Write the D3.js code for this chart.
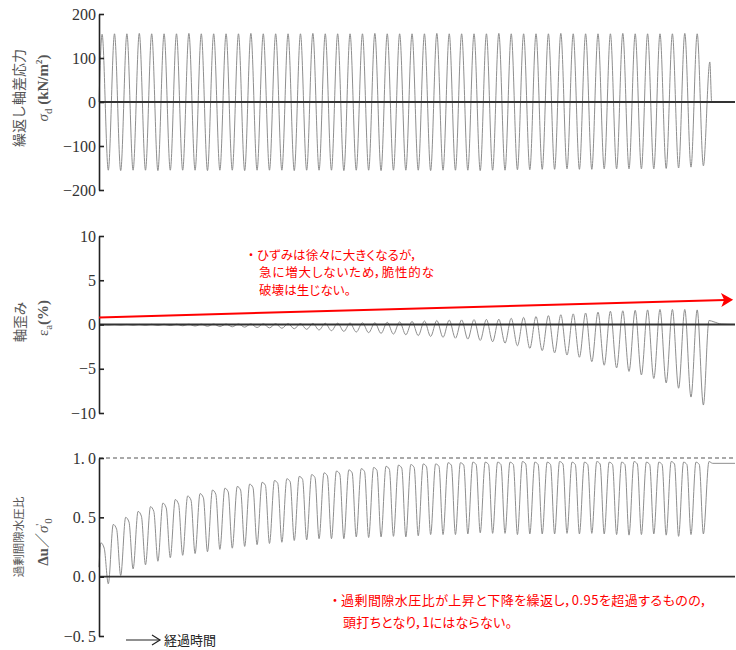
<!DOCTYPE html>
<html><head><meta charset="utf-8">
<script src="https://cdn.jsdelivr.net/npm/d3@7"></script>
<style>body{margin:0;background:#fff}svg{display:block}</style>
</head><body>
<svg id="c" width="736" height="650"></svg>
<script>
// ---------------- data ----------------
// time axis in loading cycles; peaks at k+0.25, troughs at k+0.75
const stressPeaks = [
 154,155,155,156,155,155,155,156,155,155,
 155,155,156,155,155,155,155,156,155,155,
 155,155,156,155,155,155,155,156,155,155,
 155,155,156,155,155,155,155,156,155,155,
 155,155,156,155,155,155,155,156,155];
const stressTroughs = [
 -155,-156,-155,-155,-156,-155,-155,-155,-156,-155,
 -155,-156,-155,-155,-155,-156,-155,-155,-155,-156,
 -155,-155,-156,-155,-155,-155,-156,-155,-155,-155,
 -156,-155,-155,-154,-154,-153,-153,-152,-153,-153,
 -152,-152,-152,-152,-152,-151,-150,-148,-145];
const stressHead = [[0, 0]];
const stressTail = [[49.27, 91], [49.42, 0], [51.3, 0]];

const strainPeaks = [
 0.0,0.0,0.01,0.01,0.02,0.02,0.03,0.03,0.04,0.05,
 0.05,0.06,0.07,0.08,0.09,0.10,0.11,0.12,0.14,0.15,
 0.17,0.19,0.20,0.25,0.30,0.35,0.40,0.45,0.50,0.52,
 0.55,0.58,0.60,0.70,0.80,0.90,1.00,1.10,1.20,1.30,
 1.40,1.50,1.55,1.60,1.65,1.70,1.70,1.70,1.65];
const strainTroughs = [
 -0.05,-0.06,-0.07,-0.08,-0.10,-0.12,-0.14,-0.17,-0.20,-0.23,
 -0.26,-0.30,-0.34,-0.38,-0.43,-0.48,-0.55,-0.62,-0.70,-0.78,
 -0.85,-0.92,-1.00,-1.08,-1.16,-1.25,-1.35,-1.45,-1.55,-1.65,
 -1.80,-1.95,-2.10,-2.40,-2.70,-2.95,-3.20,-3.45,-3.70,-4.20,
 -4.60,-4.90,-5.30,-5.70,-6.10,-6.60,-7.20,-8.20,-9.10];
const strainHead = [[0, 0]];
const strainTail = [[49.2, 0.45], [49.6, 0.3], [50.2, 0.05], [51.3, 0.0]];
const strainTrend = [[0, 0.8], [51.15, 2.8]];

const ratioPeaks = [
 0.285,0.44,0.50,0.55,0.59,0.62,0.65,0.68,0.70,0.73,
 0.745,0.76,0.78,0.795,0.81,0.825,0.845,0.86,0.875,0.89,
 0.90,0.91,0.92,0.93,0.94,0.945,0.95,0.95,0.96,0.96,
 0.965,0.965,0.965,0.965,0.97,0.965,0.965,0.97,0.965,0.965,
 0.97,0.965,0.965,0.97,0.965,0.965,0.97,0.965,0.965];
const ratioShoulders = [
 0.24,0.40,0.46,0.51,0.55,0.58,0.61,0.645,0.665,0.695,
 0.715,0.73,0.75,0.77,0.785,0.80,0.82,0.835,0.85,0.865,
 0.875,0.885,0.895,0.905,0.915,0.92,0.925,0.93,0.94,0.94,
 0.945,0.945,0.945,0.945,0.95,0.945,0.945,0.95,0.945,0.945,
 0.95,0.945,0.945,0.95,0.945,0.945,0.95,0.945,0.945];
const ratioTroughs = [
 -0.06,0.01,0.065,0.10,0.13,0.16,0.18,0.195,0.21,0.23,
 0.24,0.255,0.27,0.28,0.29,0.305,0.31,0.32,0.32,0.32,
 0.335,0.33,0.335,0.34,0.335,0.345,0.355,0.355,0.355,0.36,
 0.37,0.365,0.365,0.355,0.36,0.36,0.36,0.365,0.36,0.365,
 0.36,0.355,0.35,0.355,0.36,0.35,0.34,0.355,0.36];
const ratioHead = [[0, 0.08]];
const ratioTail = [[49.2, 0.97], [49.5, 0.955], [51.3, 0.955]];

const stressTicks = [-200, -100, 0, 100, 200];
const strainTicks = [-10, -5, 0, 5, 10];
const ratioTicks = [-0.5, 0, 0.5, 1.0];
const ratioTickLabels = ["\u22120.\u20095", "0.\u20090", "0.\u20095", "1.\u20090"];
const timeDomain = [0, 51.3];

const note1 = ["ひずみは徐々に大きくなるが，", "急に増大しないため，脆性的な", "破壊は生じない。"];
const note2 = ["過剰間隙水圧比が上昇と下降を繰返し，0.95を超過するものの，", "頭打ちとなり，1にはならない。"];

// ---------------- drawing ----------------
const svg = d3.select("#c");
const x = d3.scaleLinear().domain(timeDomain).range([99, 735]);
const yS = d3.scaleLinear().domain([-200, 200]).range([190, 14]);
const yE = d3.scaleLinear().domain([-10, 10]).range([413, 236]);
const yR = d3.scaleLinear().domain([-0.5, 1.0]).range([636, 458]);

function build(head, peaks, troughs, tail, pPh, shoulders, sPh) {
  const pts = head.slice();
  peaks.forEach((p, k) => {
    pts.push([k + pPh, p]);
    if (shoulders) pts.push([k + sPh, shoulders[k]]);
    pts.push([k + 0.75, troughs[k]]);
  });
  return pts.concat(tail);
}

const WAVE = "#8e8e8e";
function wave(pts, y) {
  svg.append("path").datum(pts)
    .attr("fill", "none").attr("stroke", WAVE).attr("stroke-width", 1)
    .attr("d", d3.line().x(d => x(d[0])).y(d => y(d[1])).curve(d3.curveMonotoneX));
}
function hline(y, v, opts) {
  svg.append("line").attr("x1", x(timeDomain[0])).attr("x2", x(timeDomain[1]))
    .attr("y1", y(v)).attr("y2", y(v))
    .attr("stroke", opts.c).attr("stroke-width", opts.w)
    .attr("stroke-dasharray", opts.dash || null);
}
function axis(y, ticks, fmt) {
  const g = svg.append("g").attr("transform", "translate(99,0)");
  g.call(d3.axisLeft(y).tickValues(ticks).tickSizeInner(-5).tickSizeOuter(0).tickPadding(3).tickFormat(fmt));
  g.select(".domain").attr("stroke", "#222").attr("stroke-width", 1.6);
  g.selectAll(".tick line").attr("stroke", "#222").attr("stroke-width", 1.6);
  g.selectAll(".tick text").attr("font-family", "'Liberation Serif', serif")
    .attr("font-size", 16).attr("fill", "#333");
}

// waves
wave(build(stressHead, stressPeaks, stressTroughs, stressTail, 0.25), yS);
wave(build(strainHead, strainPeaks, strainTroughs, strainTail, 0.25), yE);
wave(build(ratioHead, ratioPeaks, ratioTroughs, ratioTail, 0.15, ratioShoulders, 0.42), yR);

// reference lines
hline(yS, 0, {c: "#333", w: 2});
hline(yE, 0, {c: "#333", w: 2});
hline(yR, 0, {c: "#333", w: 1.6});
hline(yR, 1.0, {c: "#555", w: 1.2, dash: "4,3"});

// axes
axis(yS, stressTicks, d3.format("d"));
axis(yE, strainTicks, d3.format("d"));
axis(yR, ratioTicks, (d, i) => ratioTickLabels[i]);

// y titles
const JP = "'Noto Sans CJK JP', sans-serif";
const SERIF = "'Liberation Serif', serif";
function vtext(cx, cy) {
  return svg.append("text").attr("transform", `translate(${cx},${cy}) rotate(-90)`)
    .attr("text-anchor", "middle").attr("dy", "0.35em").attr("fill", "#555");
}
vtext(19, 98).attr("font-family", JP).attr("font-size", 14).text("繰返し軸差応力");
vtext(20, 322).attr("font-family", JP).attr("font-size", 13.5).text("軸歪み");
vtext(19, 537).attr("font-family", JP).attr("font-size", 11.5).text("過剰間隙水圧比");

const t1 = vtext(43, 88).attr("font-family", SERIF).attr("font-size", 15);
t1.append("tspan").attr("font-style", "italic").text("σ");
t1.append("tspan").attr("font-size", 11).attr("dy", 4).text("d");
t1.append("tspan").attr("dy", -4).attr("font-weight", "bold").text(" (kN/m");
t1.append("tspan").attr("font-size", 9).attr("dy", -6).attr("font-weight", "bold").text("2");
t1.append("tspan").attr("dy", 6).attr("font-weight", "bold").text(")");

const t2 = vtext(43, 318).attr("font-family", SERIF).attr("font-size", 15);
t2.append("tspan").text("ε");
t2.append("tspan").attr("font-size", 11).attr("dy", 4).text("a");
t2.append("tspan").attr("dy", -4).attr("font-weight", "bold").text("(%)");

const t3 = vtext(43, 542).attr("font-family", SERIF).attr("font-size", 15);
t3.append("tspan").attr("font-weight", "bold").text("Δu");
t3.append("tspan").attr("font-family", JP).text("／");
t3.append("tspan").attr("font-style", "italic").text("σ");
t3.append("tspan").attr("font-size", 11).attr("dy", -5).text("'");
t3.append("tspan").attr("font-size", 11).attr("dy", 9).text("0");

// red trend arrow (strain panel)
const RED = "#ff0000";
const ax0 = x(strainTrend[0][0]), ay0 = yE(strainTrend[0][1]);
const ax1 = x(strainTrend[1][0]), ay1 = yE(strainTrend[1][1]);
const ang = Math.atan2(ay1 - ay0, ax1 - ax0);
svg.append("line").attr("x1", ax0).attr("y1", ay0)
  .attr("x2", ax1 - 8 * Math.cos(ang)).attr("y2", ay1 - 8 * Math.sin(ang))
  .attr("stroke", RED).attr("stroke-width", 2);
svg.append("path")
  .attr("transform", `translate(${ax1},${ay1}) rotate(${ang * 180 / Math.PI})`)
  .attr("d", "M0,0 L-12,-7 L-9,0 L-12,7 Z").attr("fill", RED);

// annotations (widths matched to the reference lines)
function note(lines, x0, y0, dy, size, widths) {
  svg.append("text").attr("x", x0 - 6).attr("y", y0).attr("font-family", JP)
    .attr("font-size", size).attr("fill", RED).attr("text-anchor", "middle").text("・");
  lines.forEach((s, i) => {
    svg.append("text").attr("x", x0 + (i ? 2 : 0)).attr("y", y0 + i * dy)
      .attr("font-family", JP).attr("font-size", size).attr("fill", RED)
      .attr("textLength", widths[i]).attr("lengthAdjust", "spacing")
      .style("font-feature-settings", "'palt'").text(s);
  });
}
note(note1, 257, 259.5, 17.5, 12.5, [160, 175, 92]);
note(note2, 341, 605, 21.5, 13, [366, 169]);

// time arrow
svg.append("line").attr("x1", 126).attr("x2", 160).attr("y1", 640).attr("y2", 640)
  .attr("stroke", "#222").attr("stroke-width", 1.2);
svg.append("path").attr("d", "M152,635 L160,640 L152,645").attr("fill", "none")
  .attr("stroke", "#222").attr("stroke-width", 1.2);
svg.append("text").attr("x", 164).attr("y", 645).attr("font-family", JP)
  .attr("font-size", 13).attr("fill", "#222").text("経過時間");
</script>
</body></html>
